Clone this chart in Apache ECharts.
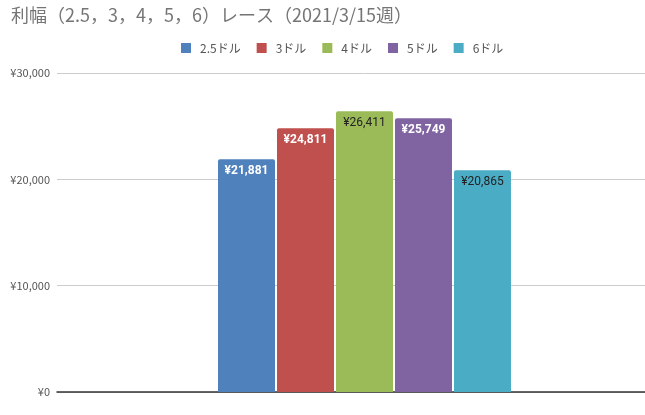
<!DOCTYPE html>
<html><head><meta charset="utf-8">
<script src="https://cdn.jsdelivr.net/npm/echarts@6/dist/echarts.min.js"></script>
<style>html,body{margin:0;padding:0;background:#fff;overflow:hidden;width:645px;height:415px}#c{width:672px;height:415px}</style>
</head><body><div id="c"></div>
<script>
const categories = ['2021/3/15週'];
const seriesNames = ['2.5ドル', '3ドル', '4ドル', '5ドル', '6ドル'];
const seriesValues = [21881, 24811, 26411, 25749, 20865];
const colors = ['#4F81BD', '#C0504D', '#9BBB59', '#8064A2', '#4BACC6'];
const labelColors = ['#ffffff', '#ffffff', '#222222', '#ffffff', '#222222'];
const yTicks = [0, 10000, 20000, 30000];

const fmt = v => '¥' + Number(v).toLocaleString('en-US');
const chart = echarts.init(document.getElementById('c'));
chart.setOption({
  animation: false,
  title: {
    text: '利幅（2.5，3，4，5，6）レース（2021/3/15週）',
    left: 6, top: 1,
    textStyle: { fontFamily: 'Noto Sans CJK JP', fontSize: 18, fontWeight: 'normal', color: '#757575' }
  },
  legend: {
    left: 176, top: 37,
    itemWidth: 10, itemHeight: 10, itemGap: 16,
    icon: 'rect',
    textStyle: { fontFamily: 'Noto Sans CJK JP', fontSize: 12, color: '#555', padding: [0, 0, 0, 4] },
    data: seriesNames
  },
  grid: { left: 57, right: 0, top: 73, bottom: 23 },
  xAxis: {
    type: 'category', data: categories,
    axisLine: { lineStyle: { color: '#333', width: 1.5 } },
    axisTick: { show: false }, axisLabel: { show: false }
  },
  yAxis: {
    type: 'value', min: yTicks[0], max: yTicks[yTicks.length - 1], interval: 10000,
    axisLine: { show: false }, axisTick: { show: false },
    axisLabel: { formatter: fmt, fontFamily: 'Noto Sans CJK JP', fontSize: 11, color: '#555', margin: 7 },
    splitLine: { lineStyle: { color: '#cccccc' } }
  },
  series: seriesNames.map((n, i) => ({
    name: n, type: 'bar',
    data: [seriesValues[i]],
    barWidth: 57, barGap: '3.5%',
    itemStyle: { color: colors[i], borderRadius: [2, 2, 0, 0] },
    label: {
      show: true, position: 'insideTop', distance: 6,
      formatter: p => fmt(p.value),
      fontFamily: 'Roboto', fontSize: 12, fontWeight: i === 2 || i === 4 ? 'normal' : 'bold',
      color: labelColors[i]
    }
  }))
});
</script></body></html>
